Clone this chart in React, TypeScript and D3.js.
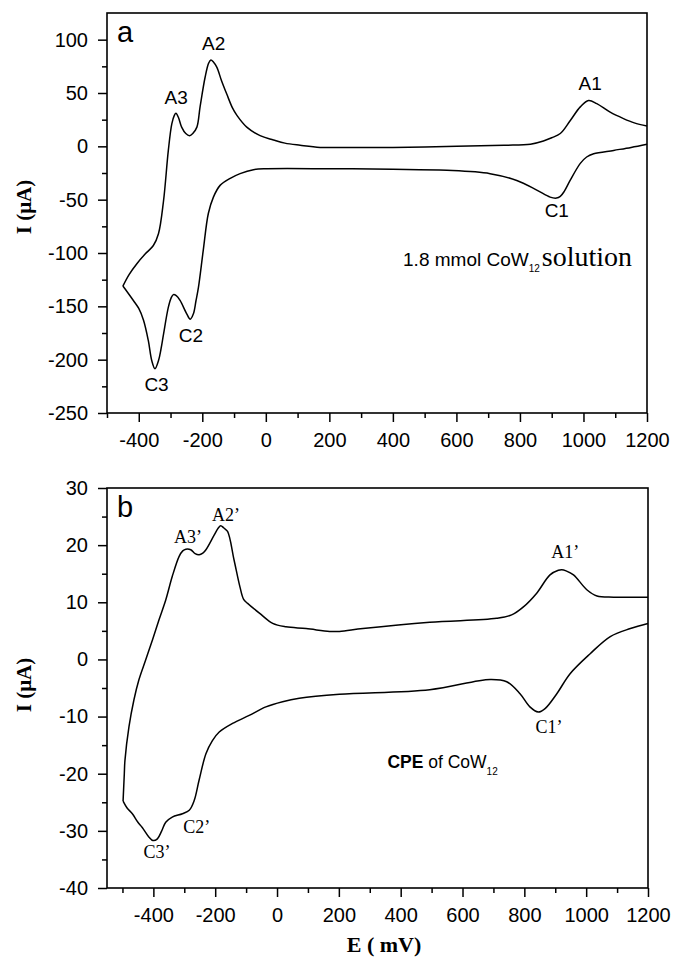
import React, { useEffect, useRef } from 'react';
import * as d3 from 'd3';

// [E (mV), I (µA)]
const solutionAnodic: [number, number][] = [
  [-450, -131], [-430, -120], [-406, -110], [-380, -101], [-354, -93], [-338, -82], [-322, -51],
  [-307, -4], [-296, 21], [-288, 29], [-283, 31], [-275, 27], [-265, 18], [-252, 12], [-240, 10],
  [-230, 12], [-217, 18], [-207, 37], [-191, 65], [-180, 78], [-173, 81], [-165, 79], [-154, 74],
  [-140, 62], [-123, 49], [-105, 36], [-91, 29], [-60, 18], [-18, 10], [24, 6], [60, 3], [108, 1],
  [171, -1], [250, -1], [400, -1], [601, 0], [750, 1], [833, 2], [874, 5], [900, 8], [927, 12],
  [958, 24], [990, 37], [1016, 43], [1042, 40], [1084, 32], [1126, 26], [1160, 22], [1200, 19],
];
const solutionCathodic: [number, number][] = [
  [-450, -131], [-435, -137], [-417, -144.5], [-400, -152], [-385, -163], [-370, -182], [-359, -201],
  [-349, -208.5], [-338, -201], [-330, -190], [-322, -176], [-307, -151], [-298, -142], [-291, -139],
  [-282, -140], [-270, -144.5], [-249, -157], [-238, -162], [-228, -157], [-220, -145], [-212, -132],
  [-197, -97.6], [-181, -63], [-165, -47.6], [-144, -36.6], [-112, -30], [-81, -25.6], [-39, -21.9],
  [3, -21], [200, -21], [400, -21.5], [570, -22.5], [706, -25.6], [790, -32], [853, -41], [895, -47.6],
  [915, -48.5], [927, -47], [940, -42], [958, -32], [990, -16], [1010, -10], [1032, -7], [1095, -3.8],
  [1150, -1], [1200, 2],
];

const cpeAnodic: [number, number][] = [
  [-498, -24.8], [-494, -20], [-492, -17.7], [-479, -11.8], [-463, -7.1], [-447, -3.6], [-425, -0.1],
  [-403, 3.4], [-382, 6.9], [-360, 10.4], [-339, 14.5], [-317, 18], [-305, 19], [-295, 19.3],
  [-279, 19.2], [-265, 18.5], [-252, 18.3], [-240, 18.6], [-230, 19.2], [-203, 21.8], [-190, 23],
  [-182, 23.4], [-172, 23], [-160, 22.4], [-139, 17.4], [-120, 12.7], [-108, 10.5], [-95, 9.8],
  [-57, 8.1], [-14, 6.3], [29, 5.7], [94, 5.4], [170, 4.9], [202, 4.9], [278, 5.4], [494, 6.5],
  [710, 7.2], [759, 7.8], [797, 9.2], [840, 11.6], [883, 14.8], [910, 15.6], [921, 15.7], [935, 15.5],
  [959, 14.8], [1002, 12.2], [1035, 11.1], [1089, 10.9], [1200, 10.9],
];
const cpeCathodic: [number, number][] = [
  [-498, -24.8], [-485, -26], [-468, -27], [-450, -28.5], [-436, -29.4], [-414, -31.1], [-401, -31.7],
  [-387, -31.4], [-373, -30], [-360, -28.5], [-339, -27.6], [-306, -27], [-284, -26.4], [-268, -24.7],
  [-252, -21.1], [-230, -16.5], [-209, -14.2], [-187, -12.7], [-144, -11.2], [-90, -9.8], [-36, -8.3],
  [18, -7.4], [72, -6.8], [202, -6.1], [494, -5.3], [689, -3.5], [743, -3.9], [786, -6], [818, -8.3],
  [845, -9.2], [867, -8.6], [905, -6], [948, -2.5], [1013, 1.0], [1078, 4.0], [1143, 5.4], [1200, 6.3],
];

const eTicks = [-400, -200, 0, 200, 400, 600, 800, 1000, 1200];
const eMinorTicks = [-500, -300, -100, 100, 300, 500, 700, 900, 1100];
const solutionITicks = [100, 50, 0, -50, -100, -150, -200, -250];
const solutionIMinorTicks = [75, 25, -25, -75, -125, -175, -225];
const cpeITicks = [30, 20, 10, 0, -10, -20, -30, -40];
const cpeIMinorTicks = [25, 15, 5, -5, -15, -25, -35];

// peak labels, anchored at [E, I] where the label sits
const solutionPeaks: { text: string; at: [number, number] }[] = [
  { text: 'A3', at: [-282, 40] },
  { text: 'A2', at: [-164, 90] },
  { text: 'C2', at: [-236, -183] },
  { text: 'C3', at: [-344, -229] },
  { text: 'A1', at: [1021, 53] },
  { text: 'C1', at: [916, -66] },
];
const cpePeaks: { text: string; at: [number, number] }[] = [
  { text: 'A3’', at: [-288, 20.4] },
  { text: 'A2’', at: [-165, 24.2] },
  { text: 'C2’', at: [-260, -30.3] },
  { text: 'C3’', at: [-388, -34.8] },
  { text: 'A1’', at: [932, 17.7] },
  { text: 'C1’', at: [880, -12.9] },
];

const SANS = '"Liberation Sans", Arial, Helvetica, sans-serif';
const SERIF = '"Liberation Serif", "Times New Roman", Times, serif';

interface PanelProps {
  letter: string;
  top: number;
  right: number;
  eDomain: [number, number];
  iDomain: [number, number];
  iTicks: number[];
  iMinorTicks: number[];
  anodic: [number, number][];
  cathodic: [number, number][];
  peaks: { text: string; at: [number, number] }[];
  peakFont: string;
  peakSize: number;
  note: React.ReactNode;
  noteAt: [number, number];
  yLabelY: number;
}

function Panel(p: PanelProps) {
  const axesRef = useRef<SVGGElement>(null);
  const left = 107;
  const height = 400;
  const x = d3.scaleLinear().domain(p.eDomain).range([left, p.right]);
  const y = d3.scaleLinear().domain(p.iDomain).range([p.top + height, p.top]);
  const line = d3.line<[number, number]>()
    .x(d => x(d[0]))
    .y(d => y(d[1]))
    .curve(d3.curveCatmullRom.alpha(0.5));

  useEffect(() => {
    if (!axesRef.current) return;
    const g = d3.select(axesRef.current);
    g.selectAll('*').remove();
    const bottom = p.top + height;
    const fmt = (d: d3.NumberValue) => String(d);

    const xMajor = g.append('g').attr('transform', `translate(0,${bottom})`)
      .call(d3.axisBottom(x).tickValues(eTicks).tickSize(9).tickPadding(11).tickSizeOuter(0).tickFormat(fmt));
    g.append('g').attr('transform', `translate(0,${bottom})`)
      .call(d3.axisBottom(x).tickValues(eMinorTicks).tickSize(5).tickSizeOuter(0).tickFormat(() => ''));
    const yMajor = g.append('g').attr('transform', `translate(${left},0)`)
      .call(d3.axisLeft(y).tickValues(p.iTicks).tickSize(9).tickPadding(10).tickSizeOuter(0).tickFormat(fmt));
    g.append('g').attr('transform', `translate(${left},0)`)
      .call(d3.axisLeft(y).tickValues(p.iMinorTicks).tickSize(5).tickSizeOuter(0).tickFormat(() => ''));

    g.selectAll('.domain').remove();
    g.selectAll('.tick line').attr('stroke', '#000').attr('stroke-width', 1.5);
    [xMajor, yMajor].forEach(a => {
      a.attr('font-family', SANS).attr('font-size', 20);
      a.selectAll('text').attr('fill', '#000');
    });
  }, []);

  return (
    <g>
      <g ref={axesRef} />
      <rect x={left} y={p.top} width={p.right - left} height={height}
        fill="none" stroke="#000" strokeWidth={1.6} />
      <path d={line(p.anodic) ?? ''} fill="none" stroke="#000" strokeWidth={1.5} />
      <path d={line(p.cathodic) ?? ''} fill="none" stroke="#000" strokeWidth={1.5} />
      <text x={left + 10} y={p.top + 29} fontFamily={SANS} fontSize={29}>{p.letter}</text>
      {p.peaks.map(pk => (
        <text key={pk.text} x={x(pk.at[0])} y={y(pk.at[1])} textAnchor="middle"
          fontFamily={p.peakFont} fontSize={p.peakSize}>{pk.text}</text>
      ))}
      <text x={x(p.noteAt[0])} y={y(p.noteAt[1])}>{p.note}</text>
      <text transform={`translate(31,${p.yLabelY}) rotate(-90)`} textAnchor="middle"
        fontFamily={SERIF} fontWeight="bold" fontSize={21}>I (μA)</text>
    </g>
  );
}

export default function App() {
  return (
    <svg width={673} height={958} style={{ position: 'absolute', left: 0, top: 0, background: '#fff' }}>
      <Panel
        letter="a" top={13} right={647}
        eDomain={[-500, 1200]} iDomain={[-250, 125]}
        iTicks={solutionITicks} iMinorTicks={solutionIMinorTicks}
        anodic={solutionAnodic} cathodic={solutionCathodic}
        peaks={solutionPeaks} peakFont={SANS} peakSize={19}
        noteAt={[432, -112.6]}
        note={<>
          <tspan fontFamily={SANS} fontSize={19}>1.8 mmol CoW</tspan>
          <tspan fontFamily={SANS} fontSize={10} dy={6}>12</tspan>
          <tspan fontFamily={SERIF} fontSize={28} dx={2} dy={-6}>solution</tspan>
        </>}
        yLabelY={207}
      />
      <Panel
        letter="b" top={488} right={648}
        eDomain={[-550, 1200]} iDomain={[-40, 30]}
        iTicks={cpeITicks} iMinorTicks={cpeIMinorTicks}
        anodic={cpeAnodic} cathodic={cpeCathodic}
        peaks={cpePeaks} peakFont={SERIF} peakSize={18}
        noteAt={[357, -19]}
        note={<>
          <tspan fontFamily={SANS} fontSize={17.5} fontWeight="bold">CPE</tspan>
          <tspan fontFamily={SANS} fontSize={17.5}> of CoW</tspan>
          <tspan fontFamily={SANS} fontSize={10} dy={7}>12</tspan>
        </>}
        yLabelY={685}
      />
      <text x={384} y={952} textAnchor="middle" fontFamily={SERIF} fontWeight="bold" fontSize={22}>E ( mV)</text>
    </svg>
  );
}
